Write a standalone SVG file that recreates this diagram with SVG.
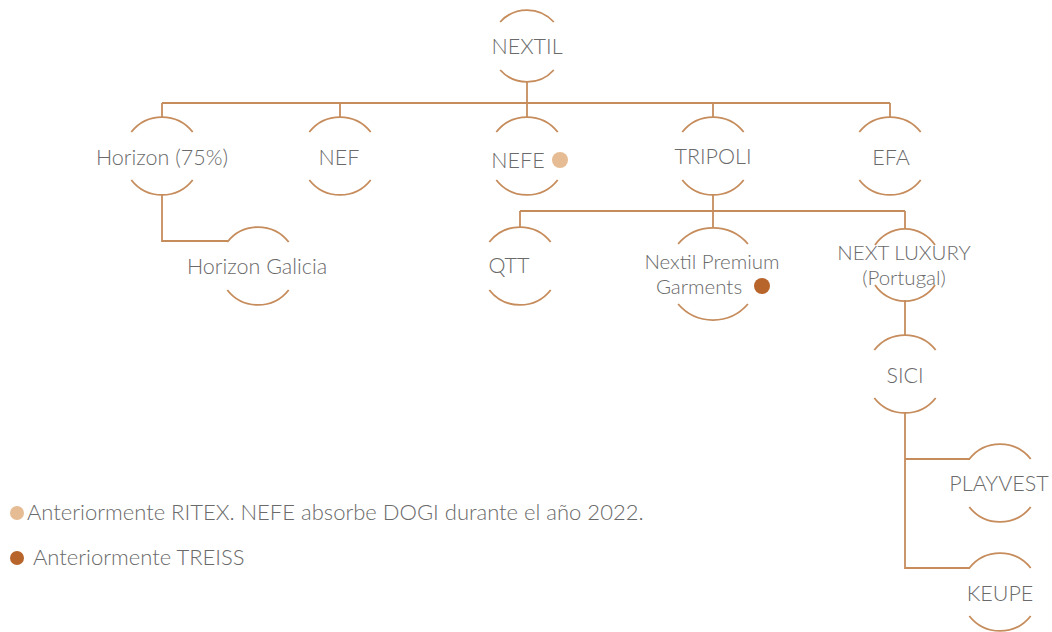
<svg xmlns="http://www.w3.org/2000/svg" width="1052" height="632" viewBox="0 0 1052 632">
<style>
.ring{fill:none;stroke:#c68c5c;stroke-width:1.8}
.conn{fill:none;stroke:#c68c5c;stroke-width:1.8}
text{font-family:Lato,"Open Sans","Liberation Sans",sans-serif;font-weight:300;font-size:21.5px;fill:#6a6a6a;text-anchor:middle}
.two{font-size:20.5px}
.leg{text-anchor:start;font-size:22px}
.dotA{fill:#e5bc93}
.dotB{fill:#b8652c}
</style>
<rect width="1052" height="632" fill="#ffffff"/>
<g id="connectors">
<path class="conn" d="M527,82 V117"/>
<path class="conn" d="M162,103 H890"/>
<path class="conn" d="M162,103 V117 M340,103 V117 M713,103 V117 M890,103 V117"/>
<path class="conn" d="M162,195 V241 H228"/>
<path class="conn" d="M713,195 V211"/>
<path class="conn" d="M520,211 H905"/>
<path class="conn" d="M520,211 V227 M713,211 V228 M905,211 V229"/>
<path class="conn" d="M905,300 V335"/>
<path class="conn" d="M905,413 V568 H970 M905,459 H970"/>
</g>
<g id="nextil">
<path class="ring" d="M500.2,22 A36,36 0 0 1 553.8,22 M500.2,70 A36,36 0 0 0 553.8,70"/>
<text x="527" y="54">NEXTIL</text>
</g>
<g id="horizon">
<path class="ring" d="M131.3,132 A39,39 0 0 1 192.7,132 M131.3,180 A39,39 0 0 0 192.7,180"/>
<text x="162" y="165">Horizon (75%)</text>
</g>
<g id="nef">
<path class="ring" d="M309.3,132 A39,39 0 0 1 370.7,132 M309.3,180 A39,39 0 0 0 370.7,180"/>
<text x="339" y="165">NEF</text>
</g>
<g id="nefe">
<path class="ring" d="M496.3,132 A39,39 0 0 1 557.7,132 M496.3,180 A39,39 0 0 0 557.7,180"/>
<text x="518" y="168">NEFE</text>
<circle class="dotA" cx="560" cy="160" r="8"/>
</g>
<g id="tripoli">
<path class="ring" d="M682.3,132 A39,39 0 0 1 743.7,132 M682.3,180 A39,39 0 0 0 743.7,180"/>
<text x="713" y="164">TRIPOLI</text>
</g>
<g id="efa">
<path class="ring" d="M859.3,132 A39,39 0 0 1 920.7,132 M859.3,180 A39,39 0 0 0 920.7,180"/>
<text x="891" y="165">EFA</text>
</g>
<g id="horizon-galicia">
<path class="ring" d="M227.3,242 A39,39 0 0 1 288.7,242 M227.3,290 A39,39 0 0 0 288.7,290"/>
<text x="257" y="274">Horizon Galicia</text>
</g>
<g id="qtt">
<path class="ring" d="M489.3,242 A39,39 0 0 1 550.7,242 M489.3,290 A39,39 0 0 0 550.7,290"/>
<text x="509" y="273">QTT</text>
</g>
<g id="nextil-premium">
<path class="ring" d="M678.1,244 A46,46 0 0 1 747.9,244 M678.1,304 A46,46 0 0 0 747.9,304"/>
<text class="two" x="712" y="269">Nextil Premium</text>
<text class="two" x="699" y="294">Garments</text>
<circle class="dotB" cx="762" cy="286" r="8"/>
</g>
<g id="next-luxury">
<path class="ring" d="M875,245 A36,36 0 0 1 935,245 M875,285 A36,36 0 0 0 935,285"/>
<text class="two" x="904" y="260">NEXT LUXURY</text>
<text class="two" x="904" y="285">(Portugal)</text>
</g>
<g id="sici">
<path class="ring" d="M874.3,350 A39,39 0 0 1 935.7,350 M874.3,398 A39,39 0 0 0 935.7,398"/>
<text x="905" y="383">SICI</text>
</g>
<g id="playvest">
<path class="ring" d="M969.3,459 A39,39 0 0 1 1030.7,459 M969.3,507 A39,39 0 0 0 1030.7,507"/>
<text x="999" y="491">PLAYVEST</text>
</g>
<g id="keupe">
<path class="ring" d="M969.3,568 A39,39 0 0 1 1030.7,568 M969.3,616 A39,39 0 0 0 1030.7,616"/>
<text x="1000" y="601">KEUPE</text>
</g>
<g id="legend">
<circle class="dotA" cx="17" cy="513" r="7"/>
<text class="leg" x="27" y="520">Anteriormente RITEX. NEFE absorbe DOGI durante el año 2022.</text>
<circle class="dotB" cx="17" cy="558" r="7"/>
<text class="leg" x="33" y="565">Anteriormente TREISS</text>
</g>
</svg>
